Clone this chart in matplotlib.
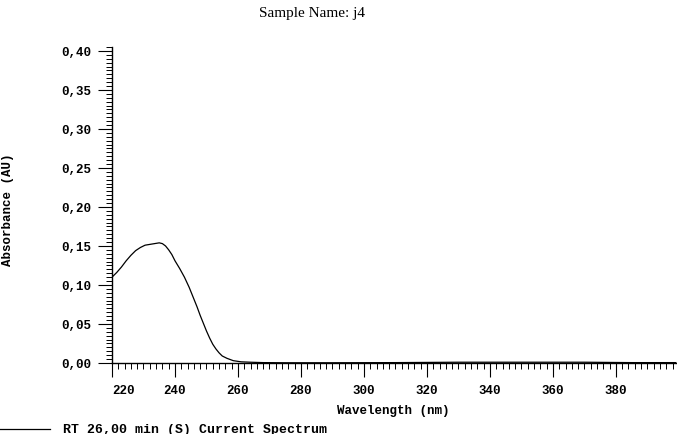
import numpy as np
import matplotlib
matplotlib.use("Agg")
import matplotlib.pyplot as plt
from matplotlib.ticker import MultipleLocator, FuncFormatter

# spectrum (nm, AU)
wl = [220.0, 221.5, 223.0, 224.5, 226.0, 227.5, 229.0, 230.5, 232.0, 233.5, 235.0,
      236.0, 237.0, 238.0, 239.0, 240.0, 241.5, 243.0, 244.5, 246.0, 247.0, 248.0,
      249.0, 250.0, 251.0, 252.0, 253.0, 254.0, 255.0, 256.5, 258.5, 261.0, 264.0,
      268.0, 275.0, 290.0, 310.0, 330.0, 350.0, 370.0, 385.0, 399.0]
absb = [0.110, 0.116, 0.123, 0.131, 0.138, 0.144, 0.148, 0.151, 0.152, 0.153, 0.154,
        0.153, 0.150, 0.145, 0.139, 0.131, 0.121, 0.110, 0.097, 0.082, 0.072, 0.061,
        0.051, 0.041, 0.032, 0.024, 0.018, 0.013, 0.009, 0.006, 0.003, 0.0015, 0.001,
        0.0005, 0.0003, 0.0003, 0.0005, 0.001, 0.001, 0.001, 0.0005, 0.0005]

title = "Sample Name: j4"
xlabel = "Wavelength (nm)"
ylabel = "Absorbance (AU)"
legend_txt = "RT 26,00 min (S) Current Spectrum"
xticks = [220, 240, 260, 280, 300, 320, 340, 360, 380]
yticks = [0.00, 0.05, 0.10, 0.15, 0.20, 0.25, 0.30, 0.35, 0.40]

MONO = "Liberation Mono"
fig = plt.figure(figsize=(6.77, 4.35), dpi=100, facecolor="white")
ax = fig.add_axes([112/677, 1-364/435, 1-112/677, 316/435])
ax.plot(wl, absb, color="black", lw=0.9)
ax.set_xlim(220, 399.4)
ax.set_ylim(0, 0.405)
for s in ("top", "right"):
    ax.spines[s].set_visible(False)
for s in ("left", "bottom"):
    ax.spines[s].set_linewidth(1.0)

ax.set_xticks(xticks)
ax.xaxis.set_minor_locator(MultipleLocator(2))
ax.set_yticks(yticks)
ax.yaxis.set_minor_locator(MultipleLocator(0.005))
ax.yaxis.set_major_formatter(FuncFormatter(lambda v, p: f"{v:.2f}".replace(".", ",")))
ax.tick_params(which="major", length=10, width=0.8, direction="out", pad=5)
ax.tick_params(which="minor", length=4, width=0.7, direction="out")
for lab in ax.get_xticklabels() + ax.get_yticklabels():
    lab.set_fontfamily(MONO); lab.set_fontsize(9); lab.set_fontweight("bold")
ax.get_xticklabels()[0].set_horizontalalignment("left")

fig.text(312/677, 1-13/435, title, family="Liberation Serif", fontsize=11,
         ha="center", va="center")
fig.text(393/677, 1-411/435, xlabel, family=MONO, fontsize=9, fontweight="bold",
         ha="center", va="center")
fig.text(8/677, 1-210/435, ylabel, family=MONO, fontsize=9, fontweight="bold",
         rotation=90, ha="center", va="center")
fig.add_artist(plt.Line2D([0, 50/677], [1-430/435, 1-430/435], color="black", lw=0.9))
fig.text(63/677, 1-430/435, legend_txt, family=MONO, fontsize=9.5, fontweight="bold",
         ha="left", va="center")

fig.savefig("out.png", dpi=100, facecolor="white")
